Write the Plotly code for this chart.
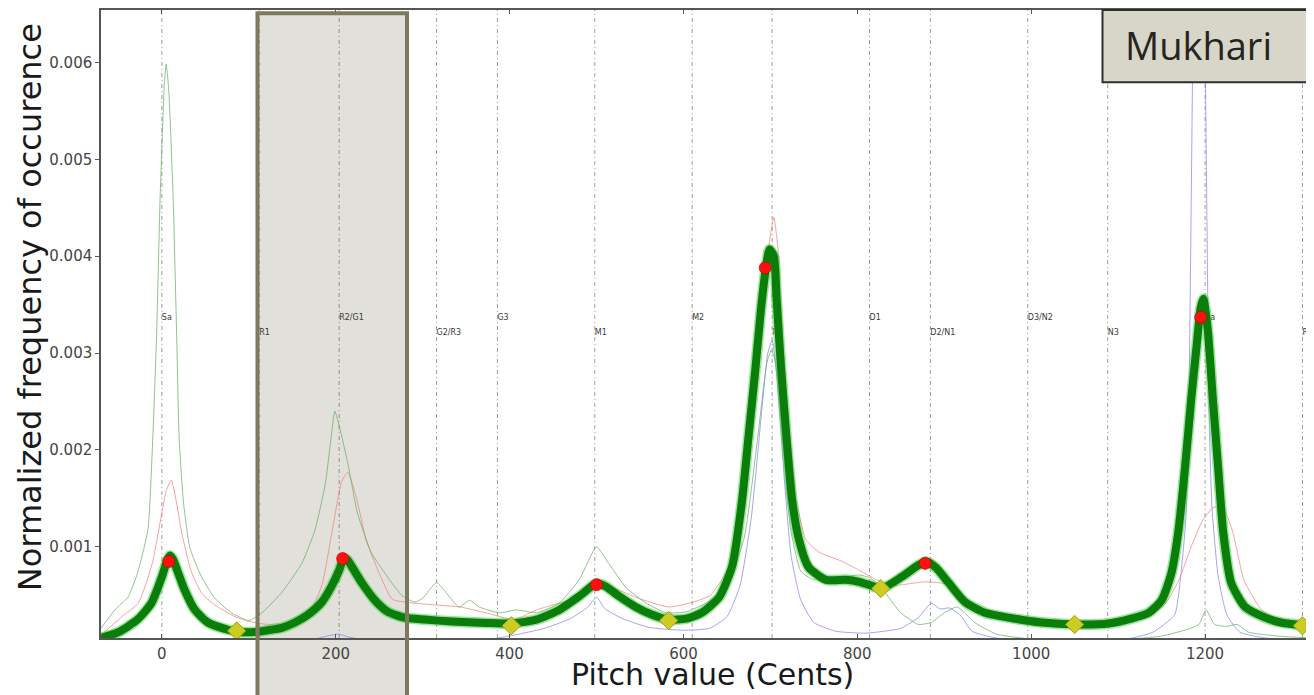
import plotly.graph_objects as go

# ---------------- data ----------------
# thick smoothed pitch histogram (green)
smooth_cents = [-70, -50, -28, -12, 0, 6, 9, 13, 18, 26, 38, 53, 76, 87, 107, 122, 138, 153, 168, 184,
                195, 204, 209, 213, 219, 230, 245, 260, 279, 302, 334, 373, 403, 431, 457, 480, 497, 502,
                511, 526, 545, 564, 583, 603, 621, 641, 656, 667, 675, 683, 689, 695, 699, 704, 707, 712,
                718, 725, 733, 744, 764, 787, 802, 816, 828, 851, 870, 879, 890, 905, 924, 947, 974, 1012,
                1051, 1089, 1115, 1135, 1150, 1161, 1169, 1177, 1184, 1190, 1195, 1198, 1203, 1209, 1215,
                1221, 1230, 1246, 1269, 1287, 1313, 1323]
smooth_vals = [0.00006, 0.00012, 0.00025, 0.00042, 0.00069, 0.00086, 0.00091, 0.00087, 0.00075, 0.00056,
               0.00035, 0.00022, 0.000145, 0.000125, 0.000122, 0.00014, 0.000165, 0.00022, 0.0003, 0.00043,
               0.00059, 0.00076, 0.00088, 0.00087, 0.00079, 0.00063, 0.00045, 0.00033, 0.00027, 0.00025,
               0.00023, 0.000215, 0.00021, 0.00025, 0.00035, 0.00049, 0.00061, 0.00062, 0.00059, 0.00049,
               0.00038, 0.0003, 0.00025, 0.00026, 0.00032, 0.00048, 0.0008, 0.00145, 0.00215, 0.00286,
               0.00344, 0.00389, 0.00407, 0.004, 0.00358, 0.00288, 0.00218, 0.00148, 0.00107, 0.00079,
               0.00066, 0.00066, 0.00064, 0.0006, 0.00057, 0.00069, 0.00081, 0.00085, 0.00079, 0.00063,
               0.00043, 0.00032, 0.00027, 0.00022, 0.0002, 0.00021, 0.00026, 0.00032, 0.00045, 0.00072,
               0.00114, 0.00182, 0.00252, 0.00305, 0.00347, 0.00356, 0.00325, 0.00252, 0.00182, 0.00114,
               0.00063, 0.00038, 0.00027, 0.00022, 0.00019, 0.00018]

# thin green recording
green_cents = [-70, -54, -39, -28, -16, -11, -6, -2, 3, 5, 8, 13, 17, 20, 25, 32, 44, 60, 80, 100, 115,
               138, 161, 176, 188, 195, 199, 204, 214, 225, 241, 262, 276, 291, 300, 316, 334, 342, 354,
               365, 388, 408, 431, 457, 480, 500, 514, 534, 557, 580, 603, 626, 649, 670, 685, 696, 701,
               706, 714, 723, 735, 750, 778, 801, 815, 830, 850, 870, 885, 900, 915, 935, 960, 1000, 1100,
               1150, 1180, 1193, 1201, 1211, 1225, 1237, 1250, 1283, 1323]
green_vals = [0.00016, 0.00035, 0.00048, 0.00073, 0.00118, 0.002, 0.0032, 0.0046, 0.0058, 0.00598,
              0.0057, 0.0046, 0.0032, 0.0021, 0.00145, 0.001, 0.00072, 0.00048, 0.00032, 0.00024,
              0.00032, 0.00053, 0.00083, 0.00117, 0.00165, 0.00215, 0.0024, 0.00225, 0.00186, 0.00135,
              0.00094, 0.00066, 0.0005, 0.00043, 0.00047, 0.00063, 0.00045, 0.00038, 0.00045, 0.00038,
              0.00032, 0.00035, 0.00032, 0.00042, 0.00066, 0.001, 0.00083, 0.00058, 0.00042, 0.00032,
              0.00033, 0.00042, 0.00058, 0.0011, 0.0021, 0.0029, 0.00303, 0.0029, 0.0021, 0.0012,
              0.00075, 0.00066, 0.00068, 0.00071, 0.00068, 0.00055, 0.00032, 0.0002, 0.00022, 0.00032,
              0.00038, 0.00022, 0.0001, 0.00005, 0.00004, 0.00008, 0.00015, 0.0002, 0.00035, 0.0002,
              0.00018, 0.0002, 0.00012, 0.00008, 0.00006]

# thin red recording
red_cents = [-70, -46, -27, -11, 0, 5, 11, 17, 23, 34, 46, 61, 84, 101, 122, 150, 167, 184, 196, 207, 214,
             224, 235, 250, 265, 290, 316, 343, 373, 405, 431, 457, 481, 499, 517, 545, 583, 611, 631, 646,
             660, 672, 684, 695, 704, 709, 715, 722, 730, 741, 757, 780, 800, 820, 840, 860, 878, 900, 916,
             935, 960, 1000, 1050, 1100, 1135, 1155, 1170, 1184, 1197, 1210, 1222, 1232, 1245, 1265, 1290,
             1323]
red_vals = [0.00009, 0.00028, 0.00042, 0.00083, 0.00135, 0.00158, 0.00169, 0.00145, 0.00114, 0.00074,
            0.00052, 0.0004, 0.00028, 0.00023, 0.0002, 0.00022, 0.00028, 0.0006, 0.00117, 0.00168, 0.00177,
            0.0015, 0.00107, 0.00073, 0.00046, 0.00042, 0.0004, 0.00038, 0.00032, 0.00025, 0.00035,
            0.00042, 0.00049, 0.00063, 0.00059, 0.00048, 0.00038, 0.00043, 0.0005, 0.00069, 0.00095,
            0.0016, 0.0028, 0.0039, 0.0044, 0.00405, 0.003, 0.0022, 0.00148, 0.00107, 0.00094, 0.00086,
            0.00077, 0.00067, 0.0006, 0.00062, 0.00064, 0.00062, 0.00052, 0.00038, 0.00028, 0.00023,
            0.00022, 0.00024, 0.00028, 0.00042, 0.00066, 0.001, 0.00127, 0.00141, 0.00138, 0.00115,
            0.00065, 0.00035, 0.00023, 0.00015]

# thin blue recording
blue_cents = [-70, 100, 170, 190, 203, 215, 240, 370, 400, 440, 470, 490, 500, 510, 530, 560, 600, 630,
              650, 665, 678, 690, 697, 702, 708, 716, 724, 735, 750, 775, 810, 850, 870, 885, 895, 906,
              918, 932, 960, 1040, 1110, 1140, 1165, 1172, 1178, 1181, 1184, 1187, 1191, 1195, 1199, 1202,
              1205, 1208, 1215, 1225, 1240, 1270, 1323]
blue_vals = [0.00003, 0.00003, 0.00004, 0.00008, 0.0001, 0.00007, 0.00003, 0.00004, 0.00008, 0.00016,
             0.00026, 0.00038, 0.00048, 0.00036, 0.00026, 0.00017, 0.00014, 0.00016, 0.00028, 0.0006,
             0.0013, 0.0024, 0.003, 0.00313, 0.0027, 0.0017, 0.0009, 0.00045, 0.00022, 0.00013, 0.00011,
             0.00016, 0.00027, 0.00042, 0.00036, 0.00037, 0.0003, 0.00013, 0.00006, 0.00004, 0.00005,
             0.00012, 0.0003, 0.0007, 0.0013, 0.0022, 0.0045, 0.007, 0.0088, 0.0088, 0.007, 0.0045,
             0.0022, 0.0014, 0.0007, 0.0003, 0.00012, 0.00006, 0.00004]

# detected peaks and valleys
peak_cents = [8, 208, 500, 694, 878, 1195]
peak_vals = [0.00085, 0.00088, 0.00061, 0.00388, 0.00083, 0.00337]
valley_cents = [86, 402, 583, 827, 1050, 1312]
valley_vals = [0.000134, 0.000186, 0.00024, 0.00057, 0.0002, 0.000186]

# swara reference positions (cents) and labels
swara_cents = [-204, -112, 0, 112, 204, 316, 386, 498, 610, 702, 814, 884, 996, 1088, 1200, 1312]
swara_names = ["D3/N2", "N3", "Sa", "R1", "R2/G1", "G2/R3", "G3", "M1", "M2", "P", "D1", "D2/N1",
               "D3/N2", "N3", "Sa", "R1"]
label_levels = [0.00336, 0.00321, 0.00336, 0.00321, 0.00336, 0.00321, 0.00336, 0.00321, 0.00336,
                0.00321, 0.00336, 0.00321, 0.00336, 0.00321, 0.00336, 0.00321]

x_ticks = [0, 200, 400, 600, 800, 1000, 1200]
y_ticks = [0.001, 0.002, 0.003, 0.004, 0.005, 0.006]
x_range = [-70, 1323]
y_range = [0.00006, 0.00654]
highlight_span = [110, 282]
raga_name = "Mukhari"

# ---------------- figure ----------------
fig = go.Figure()

fig.add_trace(go.Scatter(
    x=swara_cents, y=label_levels, text=swara_names, mode="text",
    textposition="middle right", cliponaxis=False,
    textfont=dict(family="DejaVu Sans", size=8, color="#3a3a3a"),
    hoverinfo="skip", showlegend=False))

thin_style = dict(mode="lines", line_shape="spline", showlegend=False, hoverinfo="skip")
fig.add_trace(go.Scatter(x=blue_cents, y=blue_vals, line=dict(color="rgba(125,125,240,0.7)", width=1,
                                                               smoothing=0.5), **thin_style))
fig.add_trace(go.Scatter(x=red_cents, y=red_vals, line=dict(color="rgba(240,125,115,0.7)", width=1,
                                                             smoothing=0.5), **thin_style))
fig.add_trace(go.Scatter(x=green_cents, y=green_vals, line=dict(color="rgba(105,175,105,0.75)", width=1,
                                                                 smoothing=0.5), **thin_style))

fig.add_trace(go.Scatter(x=smooth_cents, y=smooth_vals, mode="lines", line_shape="spline",
                         line=dict(color="rgba(70,210,70,0.55)", width=11, smoothing=0.6),
                         showlegend=False, hoverinfo="skip"))
fig.add_trace(go.Scatter(x=smooth_cents, y=smooth_vals, mode="lines", line_shape="spline",
                         line=dict(color="#0b7d0b", width=8, smoothing=0.6),
                         showlegend=False, hoverinfo="skip"))

fig.add_trace(go.Scatter(x=peak_cents, y=peak_vals, mode="markers",
                         marker=dict(symbol="circle", size=12, color="#ff1010",
                                     line=dict(color="rgba(200,0,0,0.7)", width=1)),
                         showlegend=False, hoverinfo="skip"))
fig.add_trace(go.Scatter(x=valley_cents, y=valley_vals, mode="markers",
                         marker=dict(symbol="diamond", size=14, color="#cccc22",
                                     line=dict(color="#a0a010", width=1)),
                         showlegend=False, hoverinfo="skip"))

shapes = []
# highlighted region (fill below everything, border on top)
shapes.append(dict(type="rect", xref="x", yref="paper", x0=highlight_span[0], x1=highlight_span[1],
                   y0=-0.2, y1=0.995, layer="below", fillcolor="#e1e0db", line=dict(width=0)))
# swara reference lines
for c in swara_cents:
    if x_range[0] < c < x_range[1]:
        shapes.append(dict(type="line", xref="x", yref="paper", x0=c, x1=c, y0=0, y1=1, layer="below",
                           line=dict(color="rgba(90,90,90,0.6)", width=1, dash="4px,3px,1px,3px")))
shapes.append(dict(type="rect", xref="x", yref="paper", x0=highlight_span[0], x1=highlight_span[1],
                   y0=-0.2, y1=0.995, layer="above", fillcolor="rgba(0,0,0,0)",
                   line=dict(color="#7e795c", width=4)))
# raga name box
shapes.append(dict(type="rect", xref="paper", yref="paper", x0=0.827, x1=1.02, y0=0.885, y1=1.0,
                   layer="above", fillcolor="#d8d6c9", line=dict(color="#2f2f2a", width=2)))

annotations = [
    dict(text=raga_name, xref="paper", yref="paper", x=0.844, y=0.944, xanchor="left", yanchor="middle",
         showarrow=False, font=dict(family="Open Sans", size=38, color="#25251f")),
    dict(text="Pitch value (Cents)", xref="paper", yref="paper", x=0.505, y=-0.0892, xanchor="center",
         yanchor="bottom", showarrow=False, font=dict(family="DejaVu Sans", size=30, color="#1a1a1a")),
    dict(text="Normalized frequency of occurence", xref="paper", yref="paper", x=-0.0585, y=0.527,
         xanchor="center", yanchor="middle", textangle=-90, showarrow=False,
         font=dict(family="DejaVu Sans", size=32, color="#1a1a1a")),
]

# page body has an 8px margin; the figure is sized so the plot lands where the reference has it
fig.update_layout(
    width=1306, height=687,
    margin=dict(l=93, r=0, t=2, b=57),
    paper_bgcolor="white", plot_bgcolor="rgba(0,0,0,0)",
    shapes=shapes, annotations=annotations, showlegend=False,
    xaxis=dict(range=x_range, tickvals=x_ticks, ticks="inside", ticklen=4, mirror="ticks",
               showline=True, linecolor="#555555", linewidth=1.5, showgrid=False, zeroline=False,
               ticklabelstandoff=1,
               tickfont=dict(family="DejaVu Sans", size=15, color="#444444"), tickcolor="#555555"),
    yaxis=dict(range=y_range, tickvals=y_ticks, tickformat=".3f", ticks="outside", ticklen=4,
               mirror=True, showline=True, linecolor="#555555", linewidth=1.5, showgrid=False,
               zeroline=False, tickfont=dict(family="DejaVu Sans", size=15, color="#444444"),
               tickcolor="#555555"),
)

fig.write_html("out.html")
